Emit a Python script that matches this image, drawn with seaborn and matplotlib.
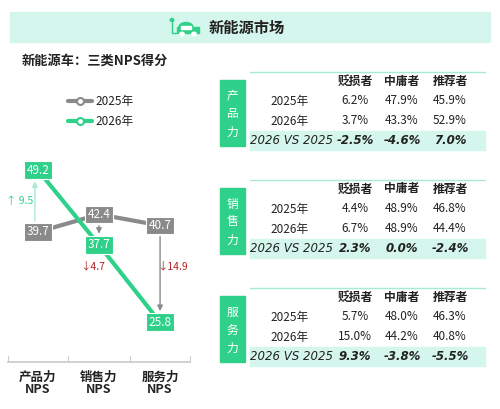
import matplotlib
matplotlib.use("Agg")
import matplotlib.pyplot as plt
import seaborn as sns
import pandas as pd
from matplotlib.patches import Rectangle, FancyBboxPatch, Circle, Ellipse

sns.set_theme(style="white")
plt.rcParams['font.family'] = ['Noto Sans CJK SC', 'DejaVu Sans']

categories = ["产品力\nNPS", "销售力\nNPS", "服务力\nNPS"]
nps_2025 = [39.7, 42.4, 40.7]
nps_2026 = [49.2, 37.7, 25.8]
years = ["2025年", "2026年"]
panels = ["产品力", "销售力", "服务力"]
col_headers = ["贬损者", "中庸者", "推荐者"]
tbl_2025 = [["6.2%", "47.9%", "45.9%"], ["4.4%", "48.9%", "46.8%"], ["5.7%", "48.0%", "46.3%"]]
tbl_2026 = [["3.7%", "43.3%", "52.9%"], ["6.7%", "48.9%", "44.4%"], ["15.0%", "44.2%", "40.8%"]]
tbl_diff = [["-2.5%", "-4.6%", "7.0%"], ["2.3%", "0.0%", "-2.4%"], ["9.3%", "-3.8%", "-5.5%"]]

GREEN = "#2fd18a"
GRAY = "#8a8a8a"
MINT = "#d5f6ec"
W, H = 500, 409
fig = plt.figure(figsize=(5, 4.09), dpi=100)
tf = fig.transFigure
def P(x, y):
    return x / W, 1 - y / H

def txt(x, y, s, **kw):
    fig.text(*P(x, y), s, transform=tf, **kw)

# header band
fig.patches.append(Rectangle(P(10, 42), 480 / W, 30 / H, transform=tf, color=MINT, zorder=0))
txt(209, 28, "新能源市场", fontsize=11, fontweight="bold", va="center", color="#222222")
# car icon as shapes
fig.patches.append(Ellipse(P(186, 27), 14 / W, 9 / H, transform=tf, color=GREEN, zorder=2))
fig.patches.append(Rectangle(P(177, 33), 22 / W, 6 / H, transform=tf, color=GREEN, zorder=2))
fig.patches.append(Rectangle(P(181, 29), 10 / W, 3 / H, transform=tf, color="white", zorder=3))
for wx in (182, 194):
    fig.patches.append(Circle(P(wx, 34), 2.2 / W, transform=tf, color="white", zorder=3))
fig.lines.append(plt.Line2D([P(172, 0)[0], P(172, 0)[0], P(176, 0)[0]],
                            [P(0, 20)[1], P(0, 33)[1], P(0, 33)[1]], transform=tf, color=GREEN, lw=1))
fig.patches.append(Circle(P(172, 20), 1.8 / W, transform=tf, color=GREEN, zorder=3))

txt(22, 61, "新能源车：三类NPS得分", fontsize=9.5, fontweight="bold", va="center", color="#222222")

# line chart
ax = fig.add_axes([8 / W, 47 / H, 182 / W, 212 / H])
df = pd.DataFrame({"cat": list(range(3)) * 2, "val": nps_2025 + nps_2026,
                   "year": [years[0]] * 3 + [years[1]] * 3})
sns.lineplot(data=df, x="cat", y="val", hue="year", palette=[GRAY, GREEN], ax=ax,
             linewidth=3, legend=False, sort=False)
ax.set_xlim(-0.49, 2.49)
ax.set_ylim(19.7, 52.3)
ax.set_xticks(range(3))
ax.set_xticklabels(categories, fontsize=9, fontweight="bold", color="#222222", linespacing=1.0)
ax.set_yticks([])
ax.set_xlabel(""); ax.set_ylabel("")
for s in ["top", "right", "left"]:
    ax.spines[s].set_visible(False)
ax.spines["bottom"].set_color("#cccccc")
ax.tick_params(axis="x", length=0, pad=6)
for i in range(3):
    for v, c in ((nps_2025[i], GRAY), (nps_2026[i], GREEN)):
        ax.text(i, v, f"{v}", ha="center", va="center", color="white", fontsize=8.5, zorder=5,
                bbox=dict(boxstyle="square,pad=0.2", fc=c, ec="white", lw=0.8))
    d = nps_2026[i] - nps_2025[i]
    col = "#a8ebcf" if d > 0 else GRAY
    x0 = i - 0.05 if i == 0 else i
    start = nps_2025[i] - 1.3 * (1 if d < 0 else -1)
    end = nps_2026[i] + 1.3 * (1 if d < 0 else -1)
    ax.annotate("", xy=(x0, end), xytext=(x0, start),
                arrowprops=dict(arrowstyle="-|>", color=col, lw=1, mutation_scale=8), zorder=3)
    lab = ("↑ " if d > 0 else "↓") + f"{abs(d):.1f}"
    ax.text(i - 0.3 if i == 0 else i - 0.1 if i == 1 else i + 0.2,
            (nps_2025[i] + nps_2026[i]) / 2 if i == 0 else 34.4,
            lab, ha="center", va="center", fontsize=7.5,
            color=GREEN if d > 0 else "#b22222")
for s in [-0.49, 0.5, 1.5, 2.49]:
    ax.plot([s, s], [19.7, 20.6], color="#cccccc", lw=0.8, clip_on=False)

# legend
for j, (yr, c) in enumerate(zip(years, [GRAY, GREEN])):
    y = 101 + 20 * j
    fig.lines.append(plt.Line2D([P(68, y)[0], P(92, y)[0]], [P(68, y)[1]] * 2, transform=tf,
                                color=c, lw=3, zorder=3))
    fig.lines.append(plt.Line2D([P(80, y)[0]], [P(80, y)[1]], transform=tf, marker="o",
                                ms=5, mfc="white", mec=c, mew=1.5, color=c, zorder=4))
    txt(95, y, yr, fontsize=8.5, va="center", color="#222222")

# tables
cols_x = [355, 402, 450]
for k in range(3):
    off = 108 * k
    fig.lines.append(plt.Line2D([P(250, 0)[0], P(485, 0)[0]], [P(0, 72 + off)[1]] * 2,
                                transform=tf, color="#a8ebcf", lw=1))
    fig.patches.append(Rectangle(P(220, 146 + off), 25 / W, 66 / H, transform=tf,
                                 color=GREEN, zorder=2))
    for m, ch in enumerate(panels[k]):
        txt(232.5, 96 + off + m * 18, ch, fontsize=8.5, color="white", ha="center", va="center",
            zorder=3)
    fig.patches.append(Rectangle(P(250, 150 + off), 235 / W, 19 / H, transform=tf,
                                 color=MINT, zorder=0))
    for cx, hd in zip(cols_x, col_headers):
        txt(cx, 81 + off, hd, fontsize=8.5, fontweight="bold", ha="center", va="center", color="#222222")
    for r, (lab, vals) in enumerate([(years[0], tbl_2025[k]), (years[1], tbl_2026[k])]):
        y = 101 + off + 20 * r
        txt(290, y, lab, fontsize=8.5, ha="center", va="center", color="#222222")
        for cx, v in zip(cols_x, vals):
            txt(cx, y, v, fontsize=8.5, ha="center", va="center", color="#222222")
    y = 141 + off
    txt(292, y, "2026 VS 2025", fontsize=8.5, ha="center", va="center", style="italic",
        color="#222222", family=['DejaVu Sans'])
    for cx, v in zip(cols_x, tbl_diff[k]):
        txt(cx, y, v, fontsize=8.5, ha="center", va="center", style="italic", fontweight="bold",
            color="#222222", family=['DejaVu Sans'])

fig.savefig("out.png", dpi=100)
